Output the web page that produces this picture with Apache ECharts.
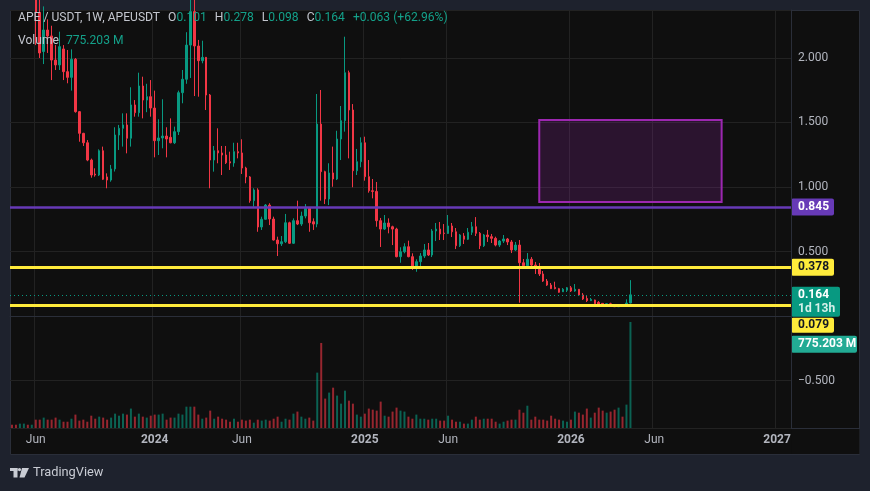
<!DOCTYPE html>
<html><head><meta charset="utf-8">
<script src="https://cdn.jsdelivr.net/npm/echarts@6/dist/echarts.min.js"></script>
<style>html,body{margin:0;padding:0;background:#1e222d;}#c{width:870px;height:491px;}</style>
</head><body><div id="c"></div>
<script>
// ---- data: APE/USDT weekly candles (first week 2023-04-24) ----
const startWeek = '2023-04-24';
const totalWeeks = 197; // bars + empty future space on the time scale
const open = [4.05,3.82,3.50,3.58,3.62,3.05,3.12,2.354,2.050,2.217,2.171,1.984,1.946,2.070,1.894,1.850,1.990,1.584,1.416,1.343,
1.209,1.100,1.093,1.281,1.078,1.054,1.140,1.403,1.455,1.481,1.378,1.636,1.576,1.783,1.674,1.700,1.612,1.359,1.380,1.395,
1.385,1.343,1.429,1.731,1.835,2.100,2.360,2.093,1.979,2.005,1.713,1.209,1.281,1.264,1.248,1.196,1.186,1.274,1.264,1.147,
1.078,0.894,0.977,0.690,0.750,0.860,0.752,0.589,0.560,0.576,0.723,0.564,0.739,0.713,0.775,0.835,0.731,0.713,1.488,1.119,
0.907,1.109,1.062,1.372,1.514,1.886,1.597,1.126,1.196,1.343,1.080,0.971,0.966,0.739,0.674,0.721,0.692,0.674,0.460,0.498,
0.537,0.460,0.380,0.421,0.465,0.512,0.473,0.659,0.674,0.643,0.640,0.698,0.653,0.545,0.620,0.595,0.649,0.692,0.641,0.545,
0.628,0.615,0.602,0.550,0.581,0.597,0.574,0.512,0.550,0.413,0.390,0.440,0.395,0.374,0.326,0.271,0.240,0.222,0.212,0.188,
0.200,0.219,0.194,0.207,0.163,0.136,0.119,0.124,0.106,0.098,0.091,0.095,0.083,0.072,0.083,0.074,0.101];
const high = [4.15,3.95,3.70,3.75,3.70,3.30,3.20,2.45,2.40,2.30,2.25,2.10,2.204,2.10,2.062,2.067,2.000,1.589,1.420,1.364,
1.220,1.145,1.292,1.313,1.106,1.171,1.463,1.481,1.571,1.571,1.773,1.674,1.886,1.855,1.80,1.829,1.747,1.525,1.680,1.463,
1.532,1.468,1.747,1.907,2.200,2.450,2.450,2.140,2.134,2.008,1.721,1.318,1.455,1.318,1.318,1.274,1.343,1.343,1.370,1.157,
1.085,0.990,0.990,0.770,0.868,0.874,0.770,0.615,0.620,0.791,0.731,0.757,0.894,0.809,0.868,0.843,0.757,1.721,1.752,1.126,
1.184,1.313,1.436,1.628,2.165,1.902,1.643,1.295,1.385,1.390,1.209,1.062,1.039,0.760,0.783,0.757,0.700,0.684,0.533,0.564,
0.584,0.486,0.440,0.488,0.558,0.566,0.674,0.721,0.729,0.713,0.783,0.721,0.682,0.636,0.643,0.682,0.729,0.767,0.651,0.636,
0.667,0.636,0.615,0.589,0.628,0.605,0.589,0.574,0.589,0.442,0.488,0.457,0.419,0.411,0.349,0.287,0.256,0.266,0.218,0.217,
0.225,0.233,0.248,0.209,0.178,0.155,0.140,0.127,0.116,0.101,0.098,0.103,0.086,0.093,0.090,0.129,0.278];
const low = [3.70,3.40,3.20,3.35,3.00,2.90,2.10,2.000,1.953,2.039,1.829,1.907,1.907,1.829,1.804,1.747,1.576,1.351,1.318,1.200,
1.072,1.080,1.085,1.054,0.990,1.041,1.120,1.287,1.313,1.261,1.313,1.545,1.545,1.532,1.58,1.545,1.230,1.248,1.300,1.230,
1.339,1.333,1.403,1.649,1.800,1.845,1.705,1.700,1.959,1.597,0.990,1.119,1.184,1.093,1.178,1.132,1.157,1.222,1.101,1.029,
0.878,0.847,0.653,0.667,0.747,0.705,0.585,0.465,0.543,0.566,0.558,0.558,0.705,0.698,0.757,0.653,0.667,0.688,0.894,0.868,
0.860,1.002,1.054,1.209,1.429,1.222,0.998,1.093,1.153,1.049,0.956,0.912,0.692,0.535,0.667,0.641,0.550,0.455,0.413,0.486,
0.455,0.357,0.343,0.372,0.450,0.465,0.457,0.581,0.589,0.589,0.636,0.612,0.519,0.535,0.558,0.589,0.628,0.620,0.519,0.535,
0.574,0.566,0.540,0.535,0.566,0.550,0.488,0.504,0.103,0.372,0.372,0.388,0.326,0.310,0.264,0.233,0.209,0.207,0.180,0.186,
0.186,0.186,0.188,0.157,0.124,0.109,0.116,0.093,0.085,0.085,0.089,0.075,0.070,0.070,0.070,0.072,0.098];
const close = [3.82,3.50,3.58,3.62,3.05,3.12,2.354,2.039,2.217,2.171,1.984,1.946,2.088,1.894,1.850,1.990,1.584,1.416,1.343,1.209,
1.093,1.093,1.281,1.060,1.054,1.140,1.403,1.455,1.481,1.378,1.636,1.576,1.783,1.674,1.700,1.612,1.359,1.380,1.395,1.372,
1.343,1.429,1.731,1.835,2.100,2.360,2.093,1.979,2.005,1.713,1.209,1.281,1.264,1.248,1.188,1.186,1.274,1.264,1.147,1.078,
0.894,0.977,0.690,0.750,0.860,0.752,0.589,0.560,0.576,0.723,0.564,0.739,0.713,0.775,0.835,0.723,0.713,1.488,1.119,0.907,
1.109,1.062,1.372,1.514,1.886,1.597,1.126,1.196,1.343,1.080,0.971,0.966,0.739,0.674,0.721,0.692,0.674,0.460,0.498,0.537,
0.460,0.380,0.421,0.465,0.512,0.473,0.659,0.674,0.636,0.640,0.698,0.653,0.545,0.628,0.595,0.649,0.692,0.641,0.545,0.628,
0.615,0.602,0.550,0.581,0.597,0.574,0.512,0.550,0.413,0.390,0.440,0.395,0.374,0.326,0.271,0.240,0.212,0.212,0.184,0.207,
0.219,0.194,0.207,0.163,0.132,0.119,0.129,0.095,0.093,0.091,0.095,0.078,0.072,0.083,0.074,0.101,0.164];
const volume = [24,24,32,32,24,24,61,61,76,61,61,76,61,46,46,68,98,54,61,46,
90,68,83,76,61,76,105,90,105,98,142,83,105,83,76,90,98,98,105,61,
76,76,105,98,156,156,156,98,68,76,127,68,83,68,61,46,68,46,61,54,
61,39,61,54,61,54,68,83,46,68,61,105,120,83,68,76,54,405,622,215,
259,295,237,178,273,200,178,98,83,105,142,134,127,193,90,83,120,149,127,120,
83,68,98,68,68,61,68,68,54,54,90,61,46,46,32,32,61,83,61,68,
68,68,46,32,46,54,61,61,134,112,163,61,83,61,61,54,90,68,61,54,
46,61,120,112,98,142,76,112,149,127,112,120,134,149,83,171,775.203];
// horizontal levels and zone
const levelPrices = [0.845, 0.378, 0.079];
const levelColors = ['#673ab7', '#ffeb3b', '#ffeb3b'];
const zoneWeeks = ['2025-11-10', '2026-09-28'];
const zonePrices = [1.519, 0.884];
// time-axis tick labels
const tickDates = ['2023-06-05','2024-01-01','2024-06-03','2025-01-06','2025-06-02','2026-01-05','2026-06-01','2027-01-04'];
const tickLabels = ['Jun','2024','Jun','2025','Jun','2026','Jun','2027'];
const priceRange = [-0.868, 2.372];
const volumeMax = 3057;

const UP = '#089981', DOWN = '#f23645';
const weeks = [];
(function(){ const t0 = Date.parse(startWeek); for (let i = 0; i < totalWeeks; i++) weeks.push(new Date(t0 + i*7*864e5).toISOString().slice(0,10)); })();
const candles = open.map((o,i) => [o, close[i], low[i], high[i]]);
const vols = volume.map((v,i) => ({value: v, itemStyle: {color: close[i] >= open[i] ? 'rgba(8,153,129,0.6)' : 'rgba(242,54,69,0.6)'}}));
const last = open.length - 1;
const isTick = (i, v) => tickDates.indexOf(v) >= 0;
const FONT = 'Roboto, "Noto Sans", sans-serif';

const chart = echarts.init(document.getElementById('c'), null, {renderer: 'canvas'});
chart.setOption({
  backgroundColor: '#1e222d',
  animation: false,
  textStyle: {fontFamily: FONT},
  grid: {left: 10, right: 79, top: 10, bottom: 63, containLabel: false},
  xAxis: {
    type: 'category', data: weeks, boundaryGap: true,
    axisLine: {show: true, lineStyle: {color: '#2a2e39'}},
    axisTick: {show: false},
    axisLabel: {
      interval: isTick, color: '#b2b5be', fontSize: 12, margin: 6, fontFamily: FONT,
      formatter: v => { const k = tickDates.indexOf(v); if (k < 0) return ''; return tickLabels[k] === 'Jun' ? tickLabels[k] : '{y|' + tickLabels[k] + '}'; },
      rich: {y: {fontWeight: 'bold', color: '#b2b5be', fontSize: 12, fontFamily: FONT}}
    },
    splitLine: {show: true, interval: isTick, lineStyle: {color: '#222222', width: 1}}
  },
  yAxis: [{
    type: 'value', position: 'right', min: priceRange[0], max: priceRange[1], splitNumber: 6,
    axisLine: {show: true, lineStyle: {color: '#2a2e39'}}, axisTick: {show: false},
    axisLabel: {
      color: '#b2b5be', fontSize: 12, margin: 7, fontFamily: FONT, showMinLabel: false, showMaxLabel: false,
      formatter: v => { const h = v * 2; if (Math.abs(h - Math.round(h)) > 1e-6 || Math.abs(v) < 1e-9) return ''; return (v < 0 ? '\u2212' : '') + Math.abs(v).toFixed(3); }
    },
    splitLine: {lineStyle: {color: '#222222', width: 1}}
  }, {
    type: 'value', min: 0, max: volumeMax, show: false, splitLine: {show: false}
  }],
  series: [{
    type: 'bar', name: 'Volume', xAxisIndex: 0, yAxisIndex: 1, data: vols, barWidth: 2, z: 1, silent: true
  }, {
    type: 'candlestick', name: 'APEUSDT', data: candles, barWidth: 2, clip: true, z: 3,
    itemStyle: {color: UP, color0: DOWN, borderColor: UP, borderColor0: DOWN, borderWidth: 1},
    markArea: {
      silent: true,
      itemStyle: {color: 'rgba(156,39,176,0.2)', borderColor: '#9c27b0', borderWidth: 2},
      data: [[{xAxis: zoneWeeks[0], yAxis: zonePrices[0]}, {xAxis: zoneWeeks[1], yAxis: zonePrices[1]}]]
    },
    markLine: {
      silent: true, symbol: 'none', animation: false,
      label: {show: false},
      data: levelPrices.map((p, k) => ({yAxis: p, lineStyle: {color: levelColors[k], width: k === 0 ? 2.5 : 3, type: 'solid'}}))
        .concat([{yAxis: close[last], lineStyle: {color: UP, width: 1, type: [1, 3]}}])
    }
  }]
});

// ---- overlays: panel background, header, footer, price badges ----
const py = v => chart.convertToPixel({yAxisIndex: 0}, v);
const vy = v => chart.convertToPixel({yAxisIndex: 1}, v);
const badge = (top, w, h, fill, textEl) => ({
  type: 'group', x: 791, y: top, z: 200,
  children: [{type: 'rect', shape: {x: 0, y: 0, width: w, height: h, r: 2}, style: {fill: fill}}].concat(textEl)
});
const btext = (txt, y, color, size) => ({type: 'text', x: 7, y: y, style: {text: txt, fill: color, font: 'bold ' + (size || 12) + 'px ' + FONT, textVerticalAlign: 'middle', verticalAlign: 'middle'}});

const badges = [];
const bh = 17;
// resistance & support levels
badges.push(badge(py(levelPrices[0]) - bh/2, 43, bh, levelColors[0], [btext(levelPrices[0].toFixed(3), bh/2, '#ffffff')]));
badges.push(badge(py(levelPrices[1]) - bh/2, 43, bh, levelColors[1], [btext(levelPrices[1].toFixed(3), bh/2, '#131722')]));
// last price with countdown
const lastTop = py(close[last]) - 8;
badges.push(badge(lastTop, 49, 30, UP, [btext(close[last].toFixed(3), 8.5, '#ffffff'), btext('1d 13h', 22.5, '#d7f0ea')]));
// lower support pushed below
const supTop = Math.max(py(levelPrices[2]) - bh/2, lastTop + 31);
badges.push(badge(supTop, 43, bh - 2, levelColors[2], [btext(levelPrices[2].toFixed(3), (bh-2)/2, '#131722')]));
// volume
const volTop = Math.max(vy(volume[last]) - bh/2, supTop + bh + 1);
badges.push(badge(volTop, 66, bh, '#22ab94', [btext(volume[last].toFixed(3) + ' M', bh/2, '#ffffff')]));

const HF = 12.1;
const hdr = '{t|APE / USDT, 1W, APEUSDT}{s|}{l|O}{v|' + open[last].toFixed(3) + '}{s|}{l|H}{v|' + high[last].toFixed(3) +
  '}{s|}{l|L}{v|' + low[last].toFixed(3) + '}{s|}{l|C}{v|' + close[last].toFixed(3) + '}{s|}{v|+0.063 (+62.96%)}';
const tvc = '#c9ccd4';

chart.setOption({
  graphic: [
    {type: 'rect', z: -100, shape: {x: 10.5, y: 10.5, width: 849, height: 444}, style: {fill: '#0f0f0f', stroke: '#2a2e39', lineWidth: 1}},
    {type: 'rect', z: 150, shape: {x: 791.5, y: 429, width: 68, height: 25}, style: {fill: '#0f0f0f'}},
    {type: 'line', z: 150, shape: {x1: 791, y1: 428.5, x2: 860, y2: 428.5}, style: {stroke: '#2a2e39', lineWidth: 1}},
    {type: 'text', x: 18, y: 18, z: 210, style: {
      text: hdr, verticalAlign: 'middle', textVerticalAlign: 'middle', font: HF + 'px ' + FONT,
      rich: {
        t: {fill: '#c3c6ce', color: '#c3c6ce', fontSize: HF, fontFamily: FONT},
        s: {width: 8},
        l: {fill: '#c3c6ce', color: '#c3c6ce', fontSize: HF, fontFamily: FONT},
        v: {fill: '#14a18a', color: '#14a18a', fontSize: HF, fontFamily: FONT}
      }}},
    {type: 'text', x: 18, y: 41, z: 210, style: {
      text: '{l|Volume}{s|}{v|' + volume[last].toFixed(3) + ' M}', verticalAlign: 'middle', textVerticalAlign: 'middle', font: HF + 'px ' + FONT,
      rich: {
        s: {width: 7},
        l: {fill: '#c3c6ce', color: '#c3c6ce', fontSize: HF, fontFamily: FONT},
        v: {fill: '#14a18a', color: '#14a18a', fontSize: HF, fontFamily: FONT}
      }}},
    // TradingView footer logo
    {type: 'rect', z: 210, shape: {x: 10, y: 468, width: 7.5, height: 3}, style: {fill: tvc}},
    {type: 'rect', z: 210, shape: {x: 13.5, y: 468, width: 4, height: 9.5}, style: {fill: tvc}},
    {type: 'circle', z: 210, shape: {cx: 19.5, cy: 469.6, r: 1.6}, style: {fill: tvc}},
    {type: 'polygon', z: 210, shape: {points: [[22, 468], [29, 468], [24.5, 477.5], [19.5, 477.5]]}, style: {fill: tvc}},
    {type: 'text', x: 33, y: 473, z: 210, style: {text: 'TradingView', fill: tvc, font: '12.8px ' + FONT, verticalAlign: 'middle', textVerticalAlign: 'middle'}}
  ].concat(badges)
});
</script></body></html>
